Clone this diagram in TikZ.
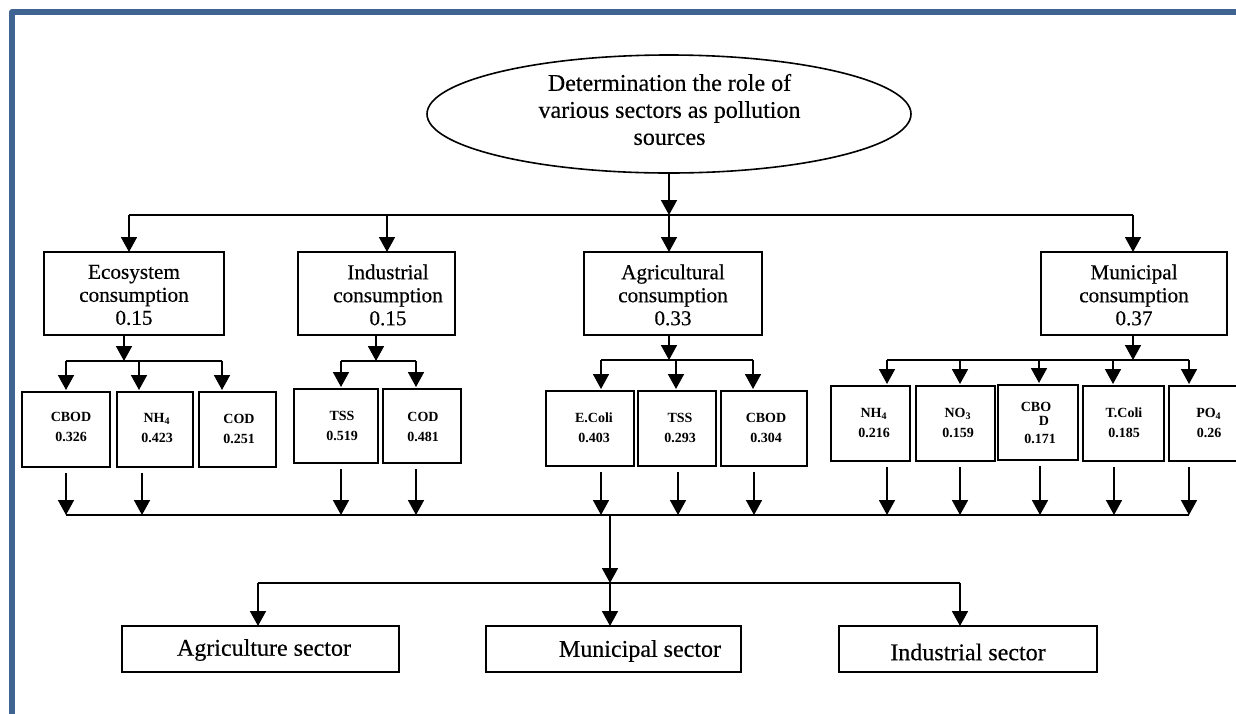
\documentclass[tikz,border=0pt]{standalone}
\usepackage{fontspec}
\setmainfont{Liberation Serif}
\newfontfamily\heavyfont[FakeBold=0.35]{Liberation Serif}
\usetikzlibrary{arrows.meta,shapes.geometric}
\definecolor{frameblue}{RGB}{64,100,146}
\newcommand\bx[6]{%
  \pgfmathsetmacro\bxw{(#5-#3)*0.5}%
  \pgfmathsetmacro\bxh{(#6-#4)*0.5}%
  \node[#1,minimum width=\bxw pt,minimum height=\bxh pt] (#2) at ({(#3+#5)/2},{(#4+#6)/2}) {};}
\newcommand\drop[2]{\draw[arr,shorten >=1pt] (#1) -- (#1 |- #2.north);}
\newcommand\rise[2]{\draw[arr,shorten <=3pt] (#2 |- #1.south) -- (#2);}
\begin{document}
\begin{tikzpicture}[x=0.5pt,y=-0.5pt,
  line/.style={line width=0.85pt},
  arr/.style={line width=0.85pt,-{Triangle[length=7.5pt,width=8pt]}},
  mainbox/.style={draw,line width=0.85pt,inner sep=0pt,outer sep=0pt},
  subbox/.style={draw,line width=1.35pt,inner sep=0pt,outer sep=0pt},
  secbox/.style={draw,line width=0.8pt,inner sep=0pt,outer sep=0pt},
  maintxt/.style={align=center,font=\heavyfont\fontsize{10.6}{11.5}\selectfont,inner sep=0pt},
  subtxt/.style={align=center,font=\fontsize{7}{10}\selectfont\bfseries,inner sep=0pt},
  sectxt/.style={font=\heavyfont\fontsize{12}{14}\selectfont,inner sep=0pt},
  elltxt/.style={align=center,font=\heavyfont\fontsize{12}{13.5}\selectfont,inner sep=0pt},
]
\useasboundingbox (0,0) rectangle (1236,713);
\fill[white] (0,0) rectangle (1236,713);
% frame
\draw[frameblue,line width=2.6pt,line join=round] (12,730) -- (12,12) -- (1250,12);

% top ellipse
\node[draw,ellipse,line width=0.8pt,minimum width=242pt,minimum height=59pt,inner sep=0pt,outer sep=0pt] (ell) at (669,114) {};
\node[elltxt] (ellt) at (669.5,109.5) {Determination the role of\\various sectors as pollution\\sources};

% main boxes
\bx{mainbox}{eco}{44}{252}{224}{335}
\bx{mainbox}{ind}{298}{252}{455}{335}
\bx{mainbox}{agr}{584}{252}{762}{335}
\bx{mainbox}{mun}{1041}{252}{1227}{335}
\node[maintxt] (ecot) at (134,295) {Ecosystem\\consumption\\0.15};
\node[maintxt] (indt) at (388,295) {Industrial\\consumption\\0.15};
\node[maintxt] (agrt) at (673,295) {Agricultural\\consumption\\0.33};
\node[maintxt] (munt) at (1134,295) {Municipal\\consumption\\0.37};

% sub boxes
\bx{subbox}{c1}{22}{392}{110}{467}
\bx{subbox}{c2}{117}{392}{193}{467}
\bx{subbox}{c3}{199}{392}{276}{467}
\bx{subbox}{t1}{294}{389}{378}{463}
\bx{subbox}{t2}{383}{389}{461}{463}
\bx{subbox}{a1}{546}{391}{634}{466}
\bx{subbox}{a2}{638}{391}{716}{466}
\bx{subbox}{a3}{721}{391}{807}{466}
\bx{subbox}{m1}{831}{386}{910}{461}
\bx{subbox}{m2}{916}{386}{995}{461}
\bx{subbox}{m3}{998}{385}{1078}{460}
\bx{subbox}{m4}{1083}{386}{1164}{461}
\bx{subbox}{m5}{1169}{386}{1250}{461}

\node[subtxt] (c1t) at (71,427) {CBOD\\0.326};
\node[subtxt] (c2t) at (157,428) {NH\textsubscript{4}\\0.423};
\node[subtxt] (c3t) at (239,429) {COD\\0.251};
\node[subtxt] (t1t) at (342,426) {TSS\\0.519};
\node[subtxt] (t2t) at (423,427) {COD\\0.481};
\node[subtxt] (a1t) at (594,428) {E.Coli\\0.403};
\node[subtxt] (a2t) at (680,428) {TSS\\0.293};
\node[subtxt] (a3t) at (766,428) {CBOD\\0.304};
\node[subtxt] (m1t) at (874,423) {NH\textsubscript{4}\\0.216};
\node[subtxt] (m2t) at (958,423) {NO\textsubscript{3}\\0.159};
\node[subtxt] (m3a) at (1036,407) {CBO};
\node[subtxt] (m3b) at (1044,421) {D};
\node[subtxt] (m3c) at (1040,439) {0.171};
\node[subtxt] (m4t) at (1124,423) {T.Coli\\0.185};
\node[subtxt] (m5t) at (1209,423) {PO\textsubscript{4}\\0.26};

% sector boxes
\bx{secbox}{s1}{122}{626}{399}{672}
\bx{secbox}{s2}{486}{626}{741}{672}
\bx{secbox}{s3}{839}{626}{1097}{672}
\node[sectxt] (s1t) at (264,650) {Agriculture sector};
\node[sectxt] (s2t) at (640,651) {Municipal sector};
\node[sectxt] (s3t) at (968,652) {Industrial sector};

% top distribution
\coordinate (B0) at (669,215);
\coordinate (B1) at (129,215);
\coordinate (B2) at (387,215);
\coordinate (B4) at (1133,215);
\draw[arr] (ell.south) -- (B0);
\draw[line] (B1) -- (B4);
\draw[arr] (B1) -- (B1 |- eco.north);
\draw[arr] (B2) -- (B2 |- ind.north);
\draw[arr] (B0) -- (B0 |- agr.north);
\draw[arr] (B4) -- (B4 |- mun.north);

% sub buses
\coordinate (E0) at (124,361);
\coordinate (E1) at (66,361);
\coordinate (E2) at (139,361);
\coordinate (E3) at (222,361);
\draw[arr] (eco.south -| E0) -- (E0);
\draw[line] (E1) -- (E3);
\drop{E1}{c1} \drop{E2}{c2} \drop{E3}{c3}

\coordinate (I0) at (376,361);
\coordinate (I1) at (341,361);
\coordinate (I2) at (416,361);
\draw[arr] (ind.south -| I0) -- (I0);
\draw[line] (I1) -- (I2);
\drop{I1}{t1} \drop{I2}{t2}

\coordinate (A0) at (669,360);
\coordinate (A1) at (601,360);
\coordinate (A2) at (676,360);
\coordinate (A3) at (753,360);
\draw[arr] (agr.south -| A0) -- (A0);
\draw[line] (A1) -- (A3);
\drop{A1}{a1} \drop{A2}{a2} \drop{A3}{a3}

\coordinate (M0) at (1133,360);
\coordinate (M1) at (887,360);
\coordinate (M2) at (960,360);
\coordinate (M3) at (1039,360);
\coordinate (M4) at (1113,360);
\coordinate (M5) at (1189,360);
\draw[arr] (mun.south -| M0) -- (M0);
\draw[line] (M1) -- (M5);
\drop{M1}{m1} \drop{M2}{m2} \drop{M3}{m3} \drop{M4}{m4} \drop{M5}{m5}

% collecting bus
\coordinate (F1) at (66,515);
\coordinate (F2) at (142,515);
\coordinate (F3) at (341,515);
\coordinate (F4) at (416,515);
\coordinate (F5) at (601,515);
\coordinate (F6) at (678,515);
\coordinate (F7) at (754,515);
\coordinate (F8) at (887,515);
\coordinate (F9) at (960,515);
\coordinate (F10) at (1040,515);
\coordinate (F11) at (1114,515);
\coordinate (F12) at (1189,515);
\draw[line] (F1) -- (F12);
\rise{c1}{F1} \rise{c2}{F2} \rise{t1}{F3} \rise{t2}{F4}
\rise{a1}{F5} \rise{a2}{F6} \rise{a3}{F7}
\rise{m1}{F8} \rise{m2}{F9} \rise{m3}{F10} \rise{m4}{F11} \rise{m5}{F12}

% output distribution
\coordinate (G0) at (610,515);
\coordinate (H0) at (610,583);
\coordinate (H1) at (258,583);
\coordinate (H3) at (960,583);
\draw[arr] (G0) -- (H0);
\draw[line] (H1) -- (H3);
\draw[arr] (H1) -- (H1 |- s1.north);
\draw[arr] (H0) -- (H0 |- s2.north);
\draw[arr] (H3) -- (H3 |- s3.north);
\end{tikzpicture}
\end{document}
